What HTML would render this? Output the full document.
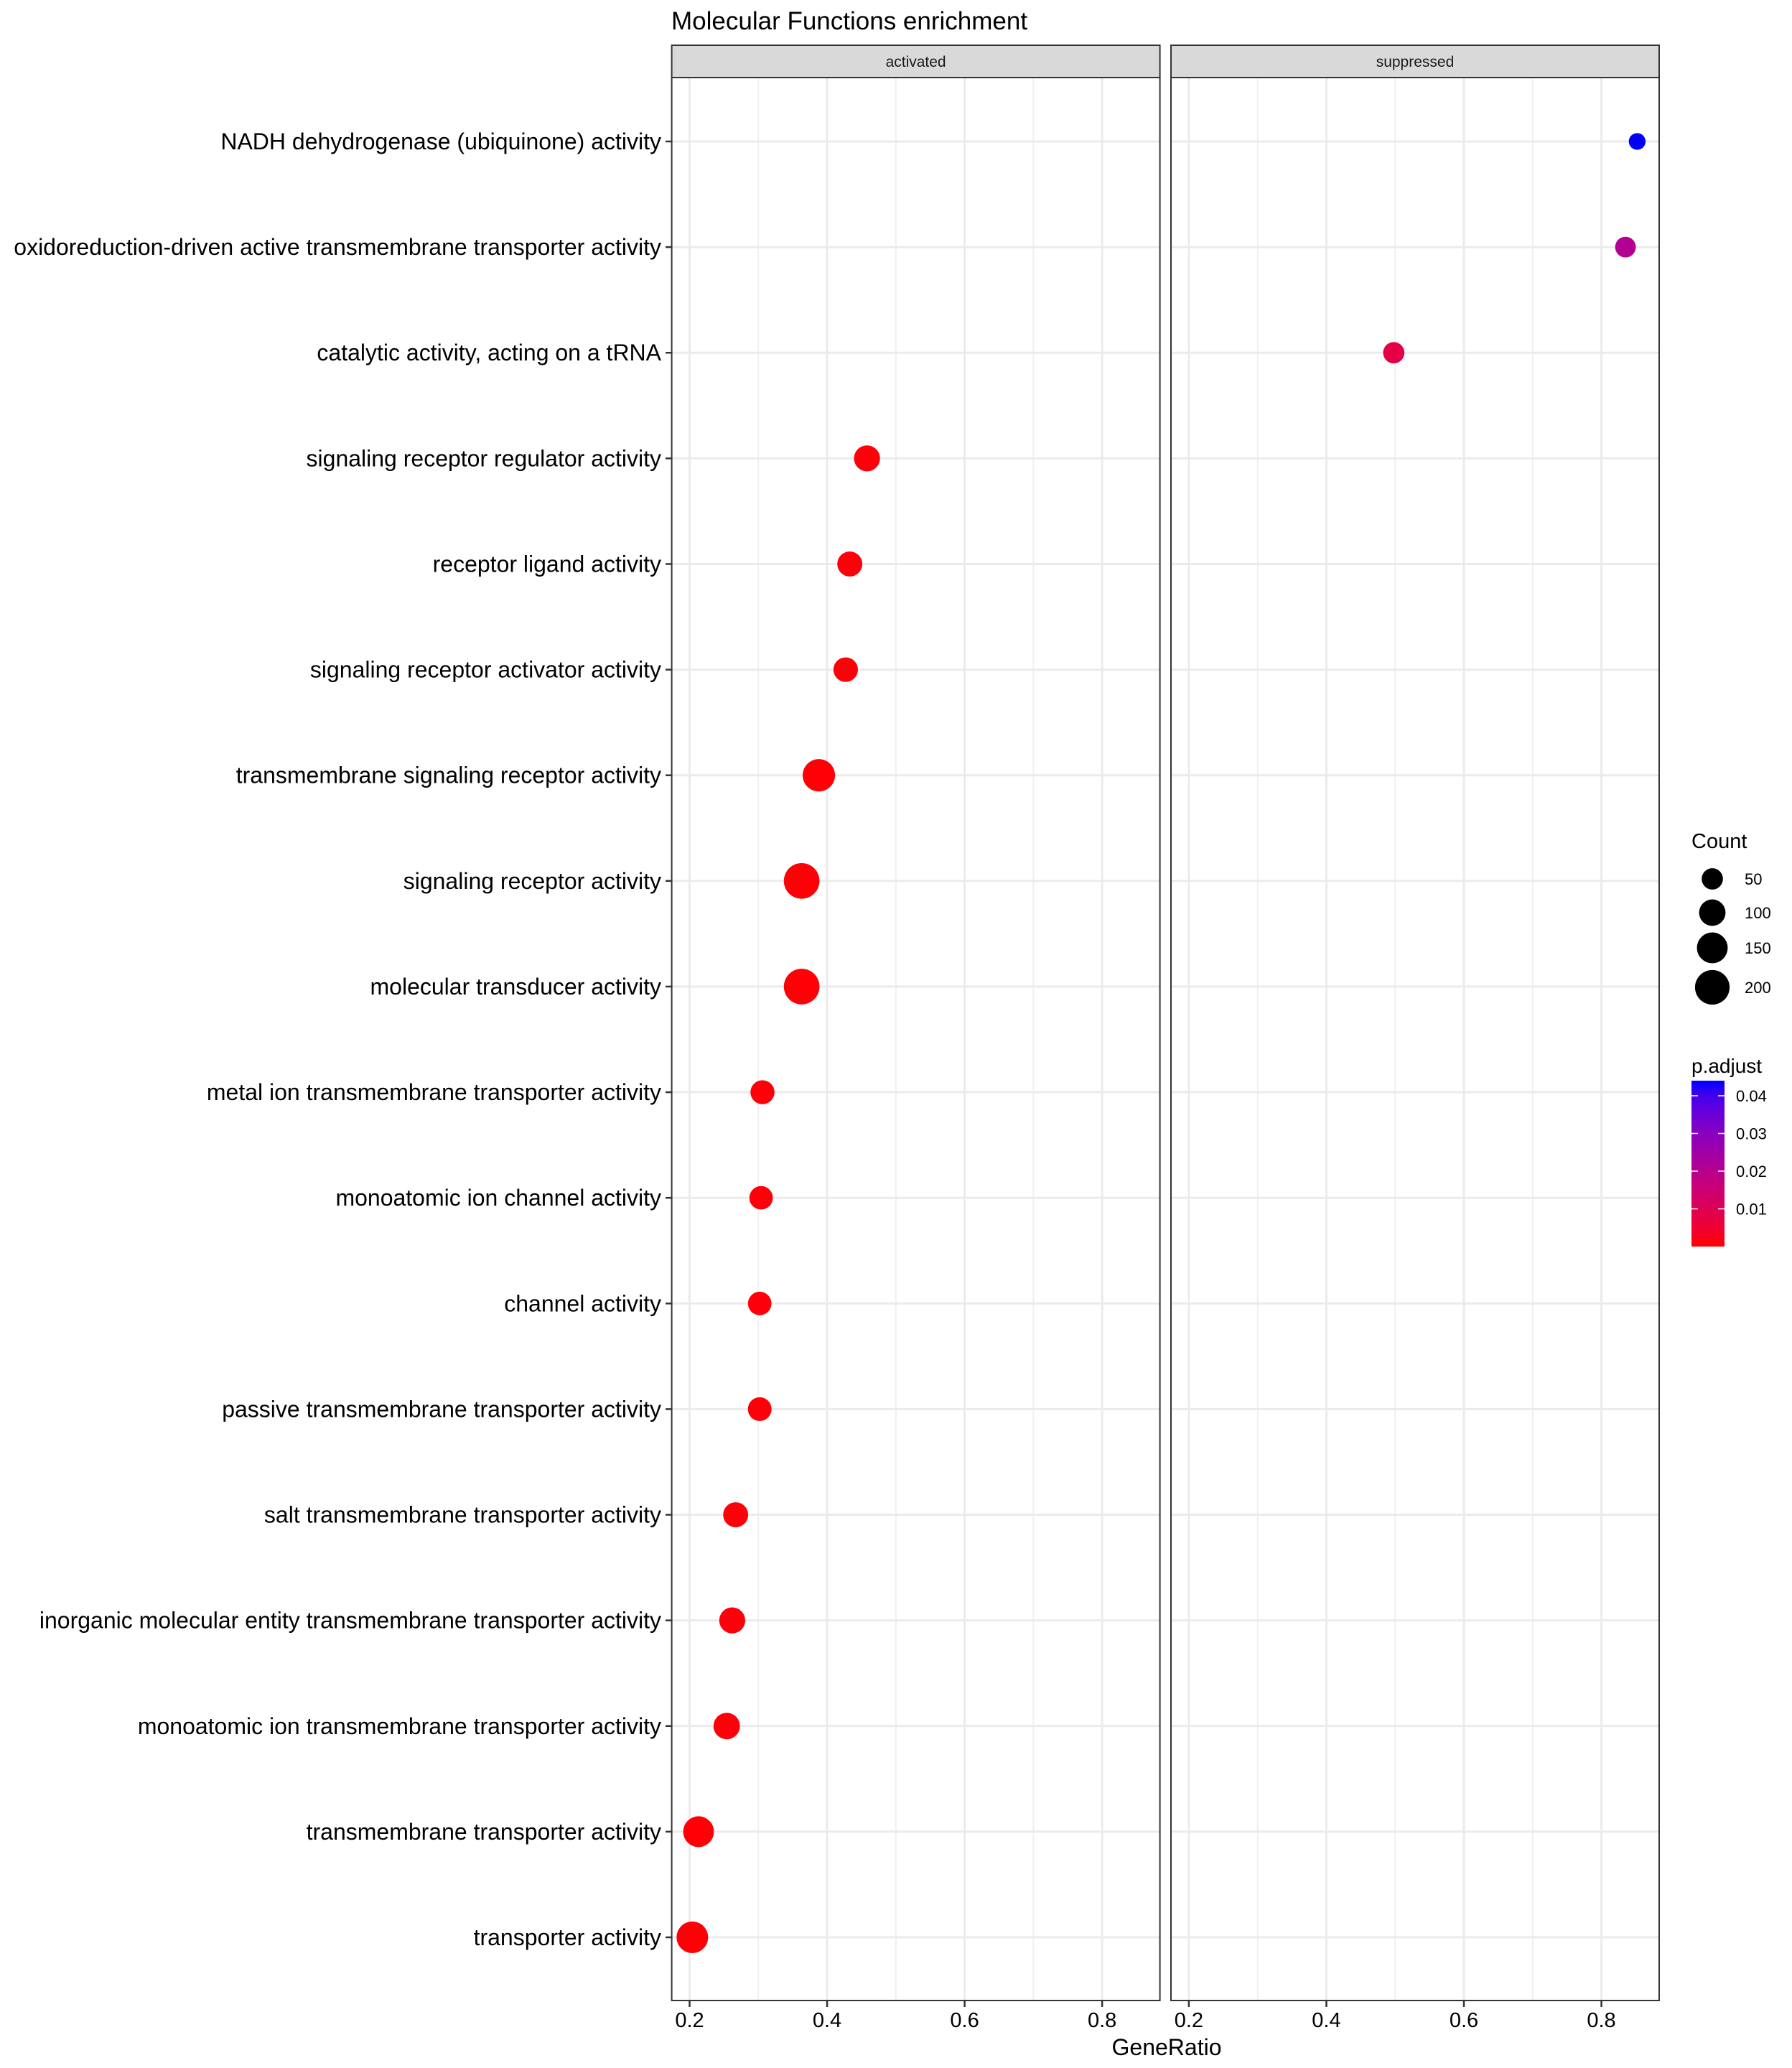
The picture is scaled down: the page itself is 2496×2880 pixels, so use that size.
<!DOCTYPE html>
<html><head><meta charset="utf-8"><style>html,body{margin:0;padding:0;background:#fff}svg{display:block;font-family:"Liberation Sans",sans-serif}</style></head>
<body>
<svg id="chart" width="2496" height="2880" viewBox="0 0 2496 2880" xmlns="http://www.w3.org/2000/svg">
<text x="935" y="41" font-size="35" fill="#000">Molecular Functions enrichment</text>
<g id="panels"></g>
<g id="legend"></g>
</svg>
<script>
const terms = ["NADH dehydrogenase (ubiquinone) activity","oxidoreduction-driven active transmembrane transporter activity","catalytic activity, acting on a tRNA","signaling receptor regulator activity","receptor ligand activity","signaling receptor activator activity","transmembrane signaling receptor activity","signaling receptor activity","molecular transducer activity","metal ion transmembrane transporter activity","monoatomic ion channel activity","channel activity","passive transmembrane transporter activity","salt transmembrane transporter activity","inorganic molecular entity transmembrane transporter activity","monoatomic ion transmembrane transporter activity","transmembrane transporter activity","transporter activity"];
const facet = ["suppressed","suppressed","suppressed","activated","activated","activated","activated","activated","activated","activated","activated","activated","activated","activated","activated","activated","activated","activated"];
const geneRatio = [0.852,0.835,0.498,0.458,0.433,0.427,0.388,0.363,0.363,0.306,0.304,0.302,0.302,0.267,0.262,0.254,0.213,0.204];
const counts = [15,45,50,95,85,80,170,215,215,75,70,70,72,85,95,100,150,160];
const padj = [0.044,0.021,0.008,0.0005,0.0005,0.0005,0.0003,0.0003,0.0003,0.0005,0.0005,0.0005,0.0005,0.0005,0.0005,0.0005,0.0003,0.0003];
const facets = ["activated","suppressed"];
const xTicks = [0.2,0.4,0.6,0.8];
const xMinor = [0.3,0.5,0.7];
const sizeBreaks = [50,100,150,200];
const colorBreaks = [0.01,0.02,0.03,0.04];

const NS="http://www.w3.org/2000/svg";
function mk(tag,attrs,parent){const e=document.createElementNS(NS,tag);for(const k in attrs)e.setAttribute(k,attrs[k]);parent.appendChild(e);return e;}
const panelX=[935.6,1631], panelW=680, stripTop=63, stripH=45, pTop=108, pBot=2786;
const xMin=0.174, xMax=0.884;
function xs(p,v){return panelX[p]+(v-xMin)/(xMax-xMin)*panelW;}
const yFirst=197, yStep=(2698-197)/17;
function ys(i){return yFirst+i*yStep;}
function rs(c){return Math.sqrt(100+2.4*c);}
const pMax=0.044;
function col(p){const t=Math.max(0,Math.min(1,p/pMax));const r=Math.round(255*Math.pow(1-t,0.55));const b=Math.round(255*Math.pow(t,0.75));return `rgb(${r},0,${b})`;}

const P=document.getElementById('panels');
facets.forEach((f,pi)=>{
  const g=mk('g',{},P);
  
  
  const strip=mk('rect',{x:panelX[pi],y:stripTop,width:panelW,height:stripH,fill:'#d9d9d9',stroke:'#333','stroke-width':2},g);
  
  
  const st=mk('text',{x:panelX[pi]+panelW/2,y:stripTop+30,'text-anchor':'middle','font-size':21,fill:'#1a1a1a'},g);
  st.textContent=f;
  
  
  xMinor.forEach(v=>{const l=mk('line',{x1:xs(pi,v),x2:xs(pi,v),y1:pTop,y2:pBot,stroke:'#f0f0f0','stroke-width':2},g);
    
    });
  xTicks.forEach(v=>{const l=mk('line',{x1:xs(pi,v),x2:xs(pi,v),y1:pTop,y2:pBot,stroke:'#ebebeb','stroke-width':3},g);
    
    
    const tk=mk('line',{x1:xs(pi,v),x2:xs(pi,v),y1:pBot,y2:pBot+9,stroke:'#333','stroke-width':2.5},g);
    
    
    const tl=mk('text',{x:xs(pi,v),y:pBot+37,'text-anchor':'middle','font-size':29,fill:'#000'},g);
    tl.textContent=v.toFixed(1);
    
    });
  terms.forEach((t,i)=>{const l=mk('line',{x1:panelX[pi],x2:panelX[pi]+panelW,y1:ys(i),y2:ys(i),stroke:'#ebebeb','stroke-width':3},g);
    
    });
  terms.forEach((t,i)=>{if(facet[i]!==f)return;
    const c=mk('circle',{cx:xs(pi,geneRatio[i]),cy:ys(i),r:rs(counts[i]),fill:col(padj[i])},g);
    
    });
  const b=mk('rect',{x:panelX[pi],y:pTop,width:panelW,height:pBot-pTop,fill:'none',stroke:'#333','stroke-width':2},g);
  
  
});
terms.forEach((t,i)=>{
  const tl=mk('text',{x:921,y:ys(i)+11,'text-anchor':'end','font-size':32,fill:'#000'},P);
  tl.textContent=t;
  
  
  const tk=mk('line',{x1:927,x2:935.6,y1:ys(i),y2:ys(i),stroke:'#333','stroke-width':2.5},P);
  
  
});
const xt=mk('text',{x:1625,y:2862,'text-anchor':'middle','font-size':32,fill:'#000'},P);
xt.textContent='GeneRatio';



const L=document.getElementById('legend');
const ct=mk('text',{x:2356,y:1181,'font-size':29,fill:'#000'},L);
ct.textContent='Count';


const sizeY=[1224,1271,1320,1375];
sizeBreaks.forEach((c,k)=>{
  const ci=mk('circle',{cx:2385,cy:sizeY[k],r:rs(c),fill:'#000'},L);
  
  
  const tx=mk('text',{x:2430,y:sizeY[k]+8,'font-size':22,fill:'#000'},L);
  tx.textContent=c;
  
  
});
const pt=mk('text',{x:2356,y:1494,'font-size':28,fill:'#000'},L);
pt.textContent='p.adjust';


const defs=mk('defs',{},L);
const gr=mk('linearGradient',{id:'cg',x1:0,y1:1,x2:0,y2:0},defs);
for(let k=0;k<=10;k++){mk('stop',{offset:k/10,'stop-color':col(pMax*k/10)},gr);}
const cbTop=1505, cbBot=1736;
const cb=mk('rect',{x:2356,y:cbTop,width:46,height:cbBot-cbTop,fill:'url(#cg)'},L);


function cy(p){return cbBot-(p/pMax)*(cbBot-cbTop);}
colorBreaks.forEach(p=>{
  const y=cy(p);
  const a=mk('line',{x1:2356,x2:2365,y1:y,y2:y,stroke:'#fff','stroke-width':1.5},L);
  
  
  const b=mk('line',{x1:2393,x2:2402,y1:y,y2:y,stroke:'#fff','stroke-width':1.5},L);
  
  
  const tx=mk('text',{x:2418,y:y+8,'font-size':22,fill:'#000'},L);
  tx.textContent=p.toFixed(2);
  
  
});
</script>
</body></html>
